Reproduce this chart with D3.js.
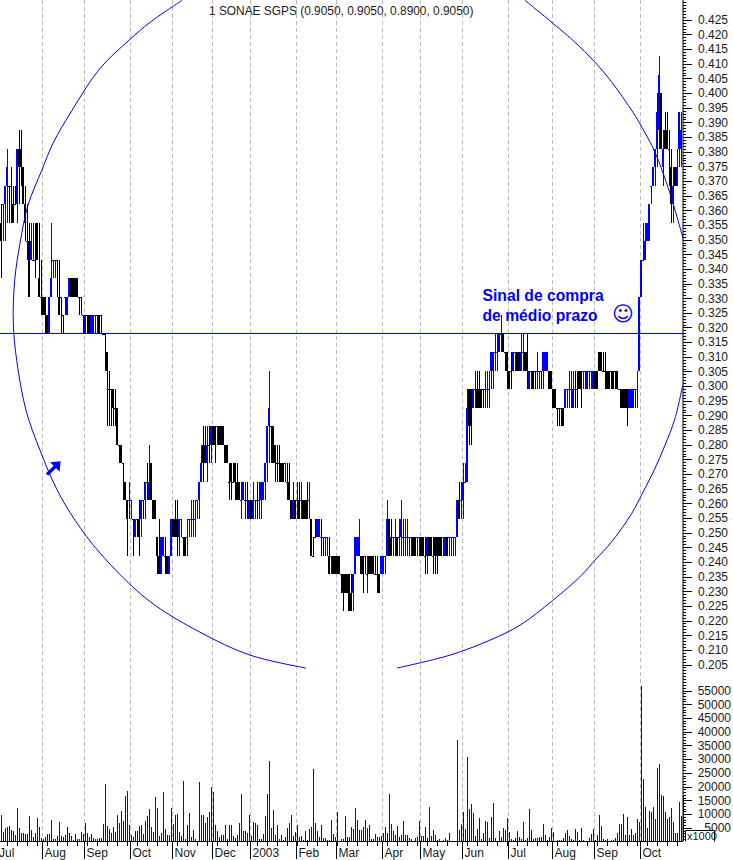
<!DOCTYPE html>
<html><head><meta charset="utf-8">
<script src="https://cdn.jsdelivr.net/npm/d3@7/dist/d3.min.js"></script>
<style>html,body{margin:0;padding:0;background:#fff;overflow:hidden}svg{display:block}
text{font-family:"Liberation Sans",Arial,sans-serif}</style></head><body>
<svg id="c" width="733" height="860"></svg>
<script>
// Prices are read in quote steps: step 0 is the horizontal signal line, one step = one quote level.
const lows=[3,5,5,6,6,6,6,7,6,7, 8,7,5,4,2,4,4,3,4,2, 1,1,0,0,0,2,3,3,2,1, 0,0,1,1,2,2,2,2,2,1, 1,0,0,0,0,0,0,0,0,0,
0,0,-2,-5,-5,-5,-5,-5,-6,-7, -7,-9,-9,-12,-10,-10,-12,-11,-11,-12, -11,-10,-10,-9,-9,-9,-10,-10,-13,-13, -13,-12,-13,-13,-13,-12,-11,-11,-12,-12, -11,-12,-12,-12,-11,-11,-11,-11,-10,-10,
-8,-8,-7,-8,-7,-7,-6,-7,-6,-6, -6,-6,-7,-7,-9,-9,-8,-9,-9,-9, -10,-9,-10,-10,-10,-10,-10,-10,-10,-10, -10,-9,-9,-8,-7,-7,-7,-8,-8,-8, -8,-8,-8,-9,-9,-10,-10,-10,-10,-10,
-10,-10,-10,-10,-10,-12,-12,-11,-11,-11, -12,-12,-12,-12,-13,-13,-13,-13,-13,-13, -14,-15,-14,-14,-15,-15,-15,-13,-12,-12, -13,-14,-13,-14,-13,-13,-13,-13,-14,-14, -13,-13,-13,-12,-12,-12,-12,-12,-12,-12,
-12,-12,-12,-12,-12,-12,-12,-12,-12,-12, -12,-12,-13,-13,-12,-12,-13,-13,-13,-12, -12,-12,-12,-12,-12,-12,-12,-12,-11,-10, -10,-10,-8,-8,-6,-6,-4,-4,-4,-4, -4,-4,-4,-4,-4,-3,-3,-2,-2,-1,
-1,-1,-2,-3,-3,-3,-2,-2,-2,-2, -2,-2,-2,-3,-3,-3,-3,-3,-3,-3, -3,-3,-2,-2,-3,-3,-4,-4,-5,-5, -5,-5,-4,-4,-4,-4,-4,-4,-4,-3, -4,-3,-3,-3,-3,-3,-3,-3,-3,-2,
-2,-2,-3,-3,-3,-3,-3,-3,-3,-3, -4,-4,-4,-5,-4,-4,-4,-4,-4,-2, 2,4,4,5,5,7,8,8,9,10, 10,8,10,10,8,6,6,8,8,9,9];
const highs=[7,7,8,10,8,9,8,8,10,11, 11,9,8,7,6,6,6,6,6,6, 4,2,2,1,2,6,4,4,4,4, 2,1,2,2,3,3,3,3,3,2, 2,1,1,1,1,1,1,1,1,1,
1,0,0,-1,-2,-3,-3,-3,-4,-6, -6,-7,-8,-9,-8,-9,-10,-10,-10,-9, -9,-9,-8,-7,-6,-7,-9,-9,-11,-10, -11,-11,-11,-12,-12,-10,-10,-9,-9,-10, -10,-11,-11,-10,-10,-9,-9,-9,-9,-8,
-6,-5,-5,-5,-5,-5,-5,-5,-5,-5, -5,-5,-6,-6,-7,-7,-7,-7,-7,-8, -8,-8,-8,-8,-9,-9,-8,-9,-8,-8, -8,-8,-7,-5,-2,-5,-5,-6,-6,-6, -7,-7,-7,-7,-7,-9,-8,-9,-8,-8,
-8,-9,-9,-8,-8,-10,-11,-10,-10,-10, -10,-11,-11,-11,-11,-12,-12,-12,-12,-12, -13,-13,-13,-13,-13,-13,-13,-11,-11,-10, -12,-12,-12,-12,-12,-12,-12,-12,-12,-13, -12,-12,-12,-9,-10,-10,-11,-10,-11,-10,
-9,-10,-10,-10,-11,-11,-11,-11,-11,-11, -11,-11,-11,-11,-11,-11,-11,-11,-11,-11, -11,-11,-11,-11,-11,-11,-11,-11,-9,-8, -8,-7,-7,-3,-3,-3,-3,-2,-2,-2, -3,-3,-2,-2,-2,-1,-1,0,0,0,
1,0,-1,-1,-2,-1,-1,-1,-1,-1, 0,0,-1,0,-2,-2,-2,-2,-1,-2, -2,-1,-1,-1,-2,-2,-3,-3,-4,-4, -4,-4,-3,-3,-2,-2,-2,-2,-2,-2, -2,-2,-2,-2,-2,-2,-2,-2,-2,-1,
-1,-1,-1,-2,-2,-2,-2,-2,-2,-3, -3,-3,-3,-3,-3,-3,-3,-3,-2,2, 4,6,6,6,7,8,9,10,13,15, 13,11,12,12,11,10,9,9,10,12,12];
const bodyLows=[5,7,7,8,8,8,6,7,7,9, 9,7,6,5,2,4,4,4,4,2, 2,1,1,0,0,2,4,4,4,1, 2,1,2,1,2,2,2,2,2,2, 2,1,0,1,0,0,0,1,1,0,
1,0,0,-2,-3,-3,-4,-4,-6,-6, -7,-7,-9,-10,-9,-9,-10,-11,-10,-11, -10,-9,-9,-8,-9,-9,-10,-10,-12,-13, -13,-12,-12,-13,-13,-12,-11,-11,-11,-11, -10,-11,-12,-11,-10,-10,-10,-10,-9,-9,
-8,-7,-7,-7,-6,-6,-6,-6,-5,-6, -6,-6,-7,-7,-8,-8,-8,-8,-9,-9, -9,-9,-9,-9,-10,-10,-10,-9,-9,-9, -9,-9,-8,-7,-5,-5,-7,-7,-7,-7, -8,-8,-7,-8,-9,-10,-10,-10,-9,-10,
-9,-10,-10,-10,-9,-12,-12,-11,-11,-11, -11,-11,-11,-11,-13,-12,-13,-13,-13,-13, -13,-14,-14,-14,-15,-15,-14,-13,-12,-12, -13,-13,-12,-13,-13,-13,-13,-13,-13,-14, -13,-13,-12,-12,-12,-12,-11,-11,-12,-11,
-11,-11,-11,-11,-11,-11,-12,-12,-11,-11, -12,-12,-12,-12,-12,-12,-12,-12,-12,-12, -12,-11,-12,-12,-11,-11,-11,-11,-11,-10, -9,-9,-8,-8,-5,-5,-4,-3,-4,-4, -4,-3,-3,-3,-3,-2,-2,-1,-1,-1,
0,-1,-1,-2,-3,-2,-2,-1,-2,-2, -2,-1,-2,-2,-3,-2,-3,-2,-2,-2, -2,-2,-2,-2,-3,-3,-4,-4,-4,-4, -4,-5,-4,-3,-3,-3,-4,-3,-3,-3, -3,-2,-2,-3,-2,-2,-3,-3,-3,-2,
-2,-2,-2,-3,-3,-2,-3,-2,-3,-3, -4,-4,-4,-4,-4,-4,-4,-3,-3,-2, 2,4,4,5,5,8,8,9,10,11, 10,9,10,10,10,7,7,8,8,10,10];
const bodyHighs=[6,7,8,9,8,8,7,7,10,10, 10,9,7,5,5,5,4,4,6,3, 2,2,2,1,2,3,4,4,4,2, 2,1,2,2,3,3,3,3,3,2, 2,1,1,1,1,1,1,1,1,1,
1,0,0,-1,-3,-3,-3,-4,-4,-6, -6,-7,-8,-9,-9,-9,-10,-10,-10,-10, -9,-9,-8,-8,-8,-7,-9,-9,-11,-12, -11,-11,-12,-12,-12,-10,-10,-10,-10,-10, -10,-11,-11,-11,-10,-10,-10,-10,-9,-8,
-7,-6,-6,-6,-6,-5,-5,-5,-5,-5, -5,-5,-6,-6,-8,-7,-8,-7,-8,-8, -9,-8,-9,-9,-9,-9,-9,-9,-9,-9, -8,-8,-7,-5,-4,-5,-5,-6,-7,-7, -7,-7,-7,-8,-8,-9,-9,-9,-9,-9,
-9,-9,-9,-9,-9,-10,-12,-11,-10,-10, -11,-11,-11,-11,-12,-12,-12,-12,-12,-12, -13,-13,-13,-13,-13,-14,-13,-11,-11,-11, -12,-12,-12,-13,-12,-12,-12,-13,-13,-13, -12,-12,-12,-10,-10,-11,-11,-11,-11,-11,
-10,-11,-11,-11,-11,-11,-11,-11,-11,-11, -11,-11,-12,-11,-11,-11,-12,-11,-11,-11, -11,-11,-11,-11,-11,-11,-11,-11,-9,-9, -9,-8,-8,-4,-3,-3,-3,-3,-3,-3, -3,-3,-3,-3,-3,-1,-1,-1,-1,0,
0,0,-1,-1,-2,-2,-1,-1,-1,-1, -1,-1,-1,-1,-2,-2,-2,-2,-2,-2, -2,-1,-1,-1,-2,-2,-3,-3,-4,-4, -4,-4,-3,-3,-3,-3,-3,-3,-3,-2, -2,-2,-2,-2,-2,-2,-2,-2,-2,-1,
-1,-2,-2,-2,-2,-2,-2,-2,-2,-3, -3,-3,-3,-3,-3,-3,-3,-3,-3,2, 4,4,5,6,7,8,9,10,12,14, 13,10,11,11,10,9,8,9,9,12,11];
const upDay=[0,1,1,1,0,0,0,0,1,0, 0,0,0,0,0,1,1,0,0,0, 0,0,0,0,1,1,1,1,0,0, 0,0,1,1,1,0,0,0,0,0, 0,0,1,0,0,1,1,1,1,0,
0,0,0,0,0,0,0,0,0,0, 0,0,0,0,1,1,0,1,0,0, 1,0,1,0,1,0,0,0,0,0, 1,1,0,0,1,1,0,0,0,1, 1,0,0,1,1,1,1,1,1,1,
1,0,0,1,0,1,0,0,1,0, 0,0,0,0,0,0,0,0,0,0, 1,1,1,0,1,0,1,1,0,1, 1,1,1,1,1,0,0,0,0,0, 0,0,1,0,0,0,1,0,1,0,
1,0,0,0,1,0,0,0,1,1, 0,0,1,1,0,1,0,0,0,0, 0,0,0,0,0,0,1,1,1,1, 0,0,0,1,0,0,0,0,0,0, 1,1,1,1,0,0,1,1,0,1,
1,1,1,1,1,1,0,0,1,1, 0,0,0,1,0,0,0,0,0,0, 0,1,1,0,1,1,1,1,1,0, 1,1,1,1,0,0,1,1,0,0, 0,0,1,1,1,1,1,1,1,1,
1,0,0,0,0,0,1,1,0,0, 1,1,0,0,1,1,0,0,1,1, 0,1,1,1,0,0,0,0,0,0, 0,0,1,1,1,1,1,0,0,0, 0,1,1,1,1,1,1,0,0,0,
0,0,0,0,0,0,0,0,0,0, 0,0,0,0,1,1,1,1,1,1, 1,1,1,1,1,1,1,1,1,1, 0,1,0,0,0,0,1,0,1,1,1];
// Volume in thousands, one per bar
const volumes=[9.4,3.4,4.8,5.1,5.4,4,3.6,2.2,12.2,4.8,3,3,2.7,2.7,9.1,4,1.6,3,8.3,5.1,
1.2,.7,1.4,2.5,2.5,7.6,.7,.7,1.8,6.9,1.9,1.4,2.2,5.1,3,1.8,.4,2.5,.7,.7,3.3,2.7,6.5,3,1.6,2.5,1,.6,.7,1,1,6.2,20.8,5.4,4.5,2.9,5.1,3.3,9.4,6.5,10.9,7.2,16.3,18.1,5.8,2.2,1.6,3.6,3.6,5.4,5.8,2.5,7.2,9.1,11.6,5.1,3.3,15.9,12,1.8,2.9,17.8,4.3,2.2,2.2,12.1,6.2,9.4,9.8,3.3,1.8,21.7,.7,5.8,10.1,1.6,4,.7,0,21.4,9.4,9.4,6.5,8.7,10.5,19.6,17.8,5.8,3.6,1.4,2.2,2.2,5.8,.7,5.8,5.8,1.8,1.1,2.2,6.5,17,3.6,3.6,2.9,9.4,1.8,6.9,6.5,5.8,.7,.7,2.5,9.1,17,29.3,4.7,11.2,2.2,5.8,.7,2.2,.4,1.4,4.7,6.5,9.4,1.8,3.3,5.8,1.4,1.8,.4,3.6,.4,4.3,5.1,26.1,6.5,3.6,1.4,5.8,1.1,1.1,.2,.4,7.6,2.5,1.4,10.5,0,.7,.7,9.1,1.4,1.4,5.1,4.3,12,7.6,4,4,5.1,7.6,
4.8,5.8,.8,.8,2.7,1.4,1.4,1.9,2.9,5.2,3,17.1,6.3,3.7,2.3,5.6,1.4,2.3,7.4,2.3,2.3,1.2,.7,0,1,1.3,7.4,1.7,1.9,5.2,1.2,12.4,1.9,4.1,2.3,.5,.7,0,.4,1.1,.5,3,0,0,0,36.7,4.1,6.3,10.6,4.5,30.6,11.7,13.5,10.3,1.9,4.5,8.5,.8,2.8,7.4,7,1.2,8.8,13.9,1.2,0,3.7,1.6,4.8,4.1,8.5,3.4,.7,.4,1.2,3.7,1.6,.8,7,.5,1.2,11.7,4.1,.7,1,1,1.6,1.6,6.3,2.3,.5,1.6,4.8,3.4,0,.2,.5,.4,1.2,3,4.1,1.9,.8,.5,4.5,3.4,.4,4.8,.5,0,0,1,2.7,4.5,.4,2.3,9.5,5.6,.8,.5,.8,0,.5,.5,1,2.8,6.3,6.3,9.9,2.3,8.8,2.3,4.5,2.3,3,8.1,7,56.6,22.6,12.4,4.8,11,10.6,12.4,8.1,26.6,28,16.8,16.4,10.6,8.1,8.8,12.1,7,3,3,14.3,9.2,16.4];
const monthBars=[21,42,65,86,106,125,148,168,191,210,231,254,276,297,320];
const monthNames=["Aug","Sep","Oct","Nov","Dec","2003","Feb","Mar","Apr","May","Jun","Jul","Aug","Sep","Oct"];
const firstMonthName="Jul";
const priceLabels=[.425,.42,.415,.41,.405,.4,.395,.39,.385,.38,.375,.37,.365,.36,.355,.35,.345,.34,.335,.33,.325,.32,.315,.31,.305,.3,.295,.29,.285,.28,.275,.27,.265,.26,.255,.25,.245,.24,.235,.23,.225,.22,.215,.21,.205];
const volumeLabels=[5000,10000,15000,20000,25000,30000,35000,40000,45000,50000,55000];
// Hand-drawn arcs, given as bar index / quote step pairs
const arcLeftBars=[90.5,74.5,64.5,49.5,35.5,26,20.4,13.5,9.5,6.85,6.15,7.85,12.5,19.5,27.85,37,49.5,73.5,99.5,124.5,152.5];
const arcLeftSteps=[18.03,16.84,15.92,14.35,12.08,10.3,8.84,6.95,4.89,2.89,.57,-1.43,-4.14,-6.3,-8.4,-10.08,-11.86,-14.4,-16.14,-17.38,-18.08];
const arcLowBars=[198,224.5,244.5,259.5,275.65,290.35,297,305.35,315.35,320.65,326.15,332,337,340.85];
const arcLowSteps=[-18.08,-17.38,-16.57,-15.76,-14.44,-13.05,-12.24,-11.25,-9.72,-8.64,-7.47,-6.03,-4.58,-2.78];
const arcTopBars=[262,286,297,305.5,316,320.5,327,334.5,341];
const arcTopSteps=[18.03,15.86,14.68,13.59,11.97,11.16,9.81,7.59,5.16];
const title="1 SONAE SGPS (0.9050, 0.9050, 0.8900, 0.9050)";
const signalLines=["Sinal de compra","de médio prazo"];

const W=733,H=860,axisX=683,baseY=841,blue="#0000ff",ink="#000",textInk="#1a1a1a";
const svg=d3.select("#c");
const x=d3.scaleLinear().domain([0,341]).range([1,683]);
const yPrice=d3.scaleLinear().domain([.205,.425]).range([664,19.3]);
const stepPrice=d3.scaleLinear().domain([0,15]).range([.3177,.41235]);
const yStep=s=>yPrice(stepPrice(s));
const yVol=d3.scaleLinear().domain([0,55000]).range([baseY,690]);

// month gridlines
svg.append("g").selectAll("line").data(monthBars).join("line")
 .attr("x1",d=>x(d)-.5).attr("x2",d=>x(d)-.5).attr("y1",0).attr("y2",baseY)
 .attr("stroke","#bbb").attr("stroke-dasharray","4,3");

// signal line
svg.append("line").attr("x1",0).attr("x2",axisX).attr("y1",Math.floor(yStep(0))+.5).attr("y2",Math.floor(yStep(0))+.5).attr("stroke",blue);

// bars
const bars=svg.append("g").attr("shape-rendering","crispEdges");
const rows=d3.range(lows.length);
const col=i=>upDay[i]?blue:ink;
bars.selectAll(".wick").data(rows).join("rect").attr("class","wick")
 .attr("x",i=>Math.round(x(i))).attr("width",1)
 .attr("y",i=>Math.round(yStep(highs[i]))).attr("height",i=>Math.max(1,Math.round(yStep(lows[i]))-Math.round(yStep(highs[i]))))
 .attr("fill",col);
bars.selectAll(".body").data(rows).join("rect").attr("class","body")
 .attr("x",i=>Math.round(x(i))-1).attr("width",2)
 .attr("y",i=>Math.round(yStep(bodyHighs[i]))).attr("height",i=>Math.max(1,Math.round(yStep(bodyLows[i]))-Math.round(yStep(bodyHighs[i]))))
 .attr("fill",col);

// arcs
svg.append("clipPath").attr("id","plot").append("rect").attr("x",0).attr("y",0).attr("width",axisX).attr("height",baseY);
const arcLine=d3.line().x(d=>x(d[0])).y(d=>yStep(d[1])).curve(d3.curveCatmullRom);
[[arcLeftBars,arcLeftSteps],[arcLowBars,arcLowSteps],[arcTopBars,arcTopSteps]].forEach(([b,s])=>{
 svg.append("path").attr("d",arcLine(b.map((v,i)=>[v,s[i]]))).attr("fill","none").attr("stroke",blue).attr("stroke-width",1).attr("clip-path","url(#plot)");
});

// arrow annotation
const tail=[x(23),yStep(-7.62)],tip=[x(29.8),yStep(-6.9)];
svg.append("line").attr("x1",tail[0]).attr("y1",tail[1]).attr("x2",tip[0]-3).attr("y2",tip[1]+3).attr("stroke",blue).attr("stroke-width",3.4);
svg.append("path").attr("fill",blue).attr("d",`M${tip[0]},${tip[1]}l-10.5,1l9.5,9.5z`);

// volume
svg.append("g").attr("shape-rendering","crispEdges").selectAll("rect").data(volumes).join("rect")
 .attr("x",(d,i)=>Math.round(x(i))).attr("width",1)
 .attr("y",d=>Math.round(yVol(d*1000))).attr("height",d=>baseY-Math.round(yVol(d*1000)))
 .attr("fill",blue);

// price axis
const styleAxis=g=>{g.select(".domain").remove();g.selectAll("line").attr("stroke",ink).attr("shape-rendering","crispEdges");
 g.selectAll("text").attr("fill",textInk).style("font-family",'"Liberation Sans",Arial,sans-serif').style("font-size","12px");};
svg.append("g").attr("transform",`translate(${axisX},.5)`)
 .call(d3.axisRight(yPrice).tickValues(d3.range(199,432).map(v=>v/1000)).tickSize(3).tickFormat(""))
 .call(styleAxis);
svg.append("g").attr("transform",`translate(${axisX},.5)`)
 .call(d3.axisRight(yPrice).tickValues(priceLabels).tickSize(9).tickPadding(6).tickFormat(d3.format(".3f")))
 .call(styleAxis);
// volume axis
svg.append("g").attr("transform",`translate(${axisX},.5)`)
 .call(d3.axisRight(yVol).tickValues(d3.range(1000,58000,1000)).tickSize(3).tickFormat(""))
 .call(styleAxis);
const volAxis=svg.append("g").attr("transform",`translate(${axisX},.5)`)
 .call(d3.axisRight(yVol).tickValues(volumeLabels).tickSize(9).tickFormat(d=>d))
 .call(styleAxis);
volAxis.selectAll("text").attr("text-anchor","end").attr("x",48);
svg.append("rect").attr("x",axisX-.5).attr("y",0).attr("width",1).attr("height",baseY).attr("fill",ink);

// time axis
svg.append("rect").attr("x",0).attr("y",baseY).attr("width",axisX).attr("height",1).attr("fill",ink);
svg.append("g").attr("transform",`translate(0,${baseY})`)
 .call(d3.axisBottom(x).tickValues(d3.range(3,341,5)).tickSize(5).tickFormat(""))
 .call(styleAxis);
const mAxis=svg.append("g").attr("transform",`translate(0,${baseY})`)
 .call(d3.axisBottom(x).tickValues(monthBars).tickSize(18).tickFormat((d,i)=>monthNames[i]))
 .call(styleAxis);
mAxis.selectAll("line").attr("transform","translate(-1,0)");
mAxis.selectAll("text").attr("text-anchor","start").attr("x",1).attr("dy",0).attr("y",16);
svg.append("text").attr("x",-1).attr("y",baseY+16).attr("fill",textInk).attr("font-size",12).text(firstMonthName);

// x1000 box
svg.append("path").attr("d",`M${axisX+2.5},841.5V830.5H714.5V841.5`).attr("fill","#fff").attr("stroke",ink);
svg.append("text").attr("x",axisX+4).attr("y",840).attr("font-size",11).attr("fill",textInk).text("x1000");

// title and notes
svg.append("text").attr("x",209).attr("y",14.5).attr("font-size",11.9).attr("fill",textInk).text(title);
signalLines.forEach((t,i)=>svg.append("text").attr("x",482.5).attr("y",300.5+i*20).attr("font-size",15.7).attr("font-weight","bold").attr("fill",blue).text(t));
svg.append("text").attr("x",623).attr("y",321).attr("text-anchor","middle").attr("font-size",21).style("font-family","'DejaVu Sans'").attr("fill",blue).text("\u263A");
</script></body></html>
